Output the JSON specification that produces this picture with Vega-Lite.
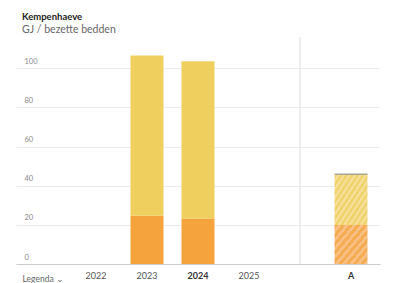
{
  "$schema": "https://vega.github.io/schema/vega-lite/v6.json",
  "autosize": "none",
  "width": 364,
  "height": 227,
  "padding": {"left": 16, "top": 37, "right": 21, "bottom": 19},
  "background": "white",
  "title": {
    "text": "Kempenhaeve",
    "subtitle": "GJ / bezette bedden",
    "anchor": "start",
    "frame": "group",
    "dx": 6,
    "offset": 1,
    "font": "Lato",
    "fontSize": 9.5,
    "fontWeight": "bold",
    "color": "#222222",
    "subtitleFont": "Lato",
    "subtitleFontSize": 10.5,
    "subtitleColor": "#666666",
    "subtitlePadding": 4
  },
  "config": {
    "view": {"stroke": null},
    "font": "Lato"
  },
  "data": {
    "values": [
      {"jaar": "2023", "deel": "warmte", "waarde": 24.6, "volgorde": 1},
      {"jaar": "2023", "deel": "elektriciteit", "waarde": 81.9, "volgorde": 2},
      {"jaar": "2024", "deel": "warmte", "waarde": 23.3, "volgorde": 1},
      {"jaar": "2024", "deel": "elektriciteit", "waarde": 80.3, "volgorde": 2},
      {"jaar": "A", "deel": "warmte referentie", "waarde": 19.9, "volgorde": 1},
      {"jaar": "A", "deel": "elektriciteit referentie", "waarde": 25.6, "volgorde": 2},
      {"jaar": "A", "deel": "overig", "waarde": 0.8, "volgorde": 3}
    ]
  },
  "encoding": {
    "x": {
      "field": "jaar",
      "type": "nominal",
      "scale": {"domain": ["p0", "2022", "2023", "2024", "2025", "p1", "A"], "paddingInner": 0.353, "paddingOuter": 0.245},
      "axis": {
        "title": "Legenda ⌄",
        "titleAnchor": "start",
        "titleAlign": "left",
        "titleX": 6,
        "titleY": 10,
        "titleBaseline": "top",
        "titleFont": "Lato",
        "titleFontSize": 8.5,
        "titleFontWeight": "normal",
        "titleColor": "#666666",
        "labelExpr": "datum.value == 'p0' || datum.value == 'p1' ? '' : datum.value",
        "labelFont": "Lato",
        "labelFontSize": 9,
        "labelColor": {"condition": {"test": "datum.value == '2024' || datum.value == 'A'", "value": "#333333"}, "value": "#555555"},
        "labelFontWeight": {"condition": {"test": "datum.value == '2024' || datum.value == 'A'", "value": "bold"}, "value": "normal"},
        "labelAngle": 0,
        "labelPadding": 7,
        "ticks": false,
        "domain": true,
        "domainColor": "#cccccc",
        "domainWidth": 1,
        "grid": false
      }
    },
    "y": {
      "field": "waarde",
      "type": "quantitative",
      "stack": "zero",
      "scale": {"domain": [0, 116], "nice": false},
      "axis": {
        "title": null,
        "values": [0, 20, 40, 60, 80, 100],
        "labelAlign": "left",
        "labelBaseline": "alphabetic",
        "labelPadding": -8,
        "labelOffset": -5,
        "labelFont": "Lato",
        "labelFontSize": 7.5,
        "labelColor": "#888888",
        "ticks": false,
        "domain": false,
        "grid": true,
        "gridColor": "#ebebeb",
        "gridWidth": 1
      }
    },
    "order": {"field": "volgorde", "type": "quantitative"}
  },
  "layer": [
    {
      "mark": {"type": "rule", "color": "#eeeeee", "strokeWidth": 1},
      "encoding": {
        "x": {"datum": "p1", "type": "nominal"},
        "y": null,
        "order": null
      }
    },
    {
      "transform": [{"filter": "datum.jaar != 'A'"}],
      "mark": {"type": "bar", "stroke": null},
      "encoding": {
        "color": {
          "field": "deel",
          "type": "nominal",
          "legend": null,
          "scale": {
            "domain": ["warmte", "elektriciteit"],
            "range": ["#f5a33c", "#efd05f"]
          }
        }
      }
    },
    {
      "transform": [{"filter": "datum.jaar == 'A'"}],
      "mark": {"type": "bar", "stroke": null},
      "encoding": {
        "fill": {
          "condition": [
            {
              "test": "datum.deel == 'warmte referentie'",
              "value": {
                "gradient": "linear", "x1": 0, "y1": 0, "x2": 1, "y2": 1,
                "stops": [
                  {"offset": 0, "color": "#f5ab52"}, {"offset": 0.0556, "color": "#f5ab52"},
                  {"offset": 0.0556, "color": "#f7bf82"}, {"offset": 0.1111, "color": "#f7bf82"},
                  {"offset": 0.1111, "color": "#f5ab52"}, {"offset": 0.1667, "color": "#f5ab52"},
                  {"offset": 0.1667, "color": "#f7bf82"}, {"offset": 0.2222, "color": "#f7bf82"},
                  {"offset": 0.2222, "color": "#f5ab52"}, {"offset": 0.2778, "color": "#f5ab52"},
                  {"offset": 0.2778, "color": "#f7bf82"}, {"offset": 0.3333, "color": "#f7bf82"},
                  {"offset": 0.3333, "color": "#f5ab52"}, {"offset": 0.3889, "color": "#f5ab52"},
                  {"offset": 0.3889, "color": "#f7bf82"}, {"offset": 0.4444, "color": "#f7bf82"},
                  {"offset": 0.4444, "color": "#f5ab52"}, {"offset": 0.5, "color": "#f5ab52"},
                  {"offset": 0.5, "color": "#f7bf82"}, {"offset": 0.5556, "color": "#f7bf82"},
                  {"offset": 0.5556, "color": "#f5ab52"}, {"offset": 0.6111, "color": "#f5ab52"},
                  {"offset": 0.6111, "color": "#f7bf82"}, {"offset": 0.6667, "color": "#f7bf82"},
                  {"offset": 0.6667, "color": "#f5ab52"}, {"offset": 0.7222, "color": "#f5ab52"},
                  {"offset": 0.7222, "color": "#f7bf82"}, {"offset": 0.7778, "color": "#f7bf82"},
                  {"offset": 0.7778, "color": "#f5ab52"}, {"offset": 0.8333, "color": "#f5ab52"},
                  {"offset": 0.8333, "color": "#f7bf82"}, {"offset": 0.8889, "color": "#f7bf82"},
                  {"offset": 0.8889, "color": "#f5ab52"}, {"offset": 0.9444, "color": "#f5ab52"},
                  {"offset": 0.9444, "color": "#f7bf82"}, {"offset": 1, "color": "#f7bf82"}
                ]
              }
            },
            {
              "test": "datum.deel == 'elektriciteit referentie'",
              "value": {
                "gradient": "linear", "x1": 0, "y1": 0, "x2": 1, "y2": 1,
                "stops": [
                  {"offset": 0, "color": "#f1d36c"}, {"offset": 0.0417, "color": "#f1d36c"},
                  {"offset": 0.0417, "color": "#f5df98"}, {"offset": 0.0833, "color": "#f5df98"},
                  {"offset": 0.0833, "color": "#f1d36c"}, {"offset": 0.125, "color": "#f1d36c"},
                  {"offset": 0.125, "color": "#f5df98"}, {"offset": 0.1667, "color": "#f5df98"},
                  {"offset": 0.1667, "color": "#f1d36c"}, {"offset": 0.2083, "color": "#f1d36c"},
                  {"offset": 0.2083, "color": "#f5df98"}, {"offset": 0.25, "color": "#f5df98"},
                  {"offset": 0.25, "color": "#f1d36c"}, {"offset": 0.2917, "color": "#f1d36c"},
                  {"offset": 0.2917, "color": "#f5df98"}, {"offset": 0.3333, "color": "#f5df98"},
                  {"offset": 0.3333, "color": "#f1d36c"}, {"offset": 0.375, "color": "#f1d36c"},
                  {"offset": 0.375, "color": "#f5df98"}, {"offset": 0.4167, "color": "#f5df98"},
                  {"offset": 0.4167, "color": "#f1d36c"}, {"offset": 0.4583, "color": "#f1d36c"},
                  {"offset": 0.4583, "color": "#f5df98"}, {"offset": 0.5, "color": "#f5df98"},
                  {"offset": 0.5, "color": "#f1d36c"}, {"offset": 0.5417, "color": "#f1d36c"},
                  {"offset": 0.5417, "color": "#f5df98"}, {"offset": 0.5833, "color": "#f5df98"},
                  {"offset": 0.5833, "color": "#f1d36c"}, {"offset": 0.625, "color": "#f1d36c"},
                  {"offset": 0.625, "color": "#f5df98"}, {"offset": 0.6667, "color": "#f5df98"},
                  {"offset": 0.6667, "color": "#f1d36c"}, {"offset": 0.7083, "color": "#f1d36c"},
                  {"offset": 0.7083, "color": "#f5df98"}, {"offset": 0.75, "color": "#f5df98"},
                  {"offset": 0.75, "color": "#f1d36c"}, {"offset": 0.7917, "color": "#f1d36c"},
                  {"offset": 0.7917, "color": "#f5df98"}, {"offset": 0.8333, "color": "#f5df98"},
                  {"offset": 0.8333, "color": "#f1d36c"}, {"offset": 0.875, "color": "#f1d36c"},
                  {"offset": 0.875, "color": "#f5df98"}, {"offset": 0.9167, "color": "#f5df98"},
                  {"offset": 0.9167, "color": "#f1d36c"}, {"offset": 0.9583, "color": "#f1d36c"},
                  {"offset": 0.9583, "color": "#f5df98"}, {"offset": 1, "color": "#f5df98"}
                ]
              }
            }
          ],
          "value": "#a8a88c"
        }
      }
    }
  ]
}
